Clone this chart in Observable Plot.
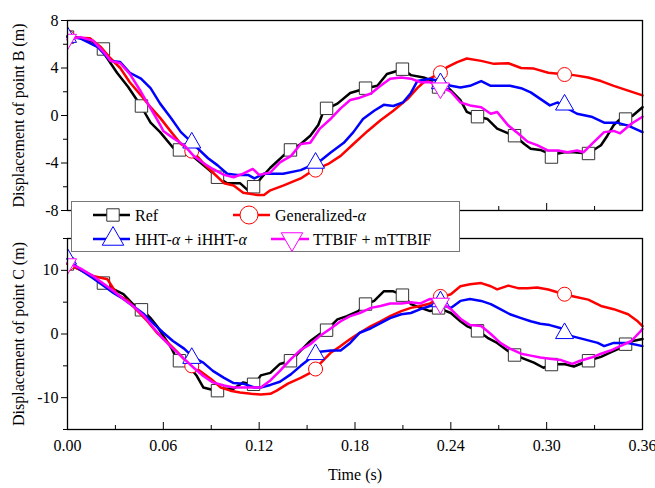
<!DOCTYPE html>
<html><head><meta charset="utf-8">
<script src="https://cdn.jsdelivr.net/npm/d3@7"></script>
<script src="https://cdn.jsdelivr.net/npm/@observablehq/plot@0.6"></script>
<style>
html,body{margin:0;padding:0;background:#fff;}
#wrap{position:relative;width:655px;height:488px;font-family:"Liberation Serif","Times New Roman",serif;}
#wrap svg{position:absolute;left:0;overflow:visible;max-width:none;}
</style></head><body><div id="wrap"></div><script>
// ---- tick values ----
const xMajor = [0, 0.06, 0.12, 0.18, 0.24, 0.30, 0.36];
const xMinor = [0.03, 0.09, 0.15, 0.21, 0.27, 0.33];
const yMajorB = [-8, -4, 0, 4, 8];
const yMinorB = [-6, -2, 2, 6];
const yMajorC = [-10, 0, 10];
const yMinorC = [-15, -5, 5, 15];
const seriesNames = ["Ref", "Generalized-α", "HHT-α + iHHT-α", "TTBIF + mTTBIF"];
const colors = ["#000000", "#ff0000", "#0000ff", "#ff00ff"];

// ---- point B: [time (s), displacement (m)] ----
const refB = [[0,6.7],[0.008,6.5],[0.016,6.2],[0.021,5.6],[0.031,3.6],[0.038,2.4],[0.046,0.8],[0.052,-0.6],[0.058,-1.4],[0.066,-2.7],[0.079,-3.5],[0.088,-4.5],[0.094,-5.2],[0.100,-5.7],[0.108,-5.7],[0.113,-6.3],[0.117,-6.0],[0.121,-5.3],[0.127,-4.4],[0.135,-3.4],[0.140,-2.9],[0.146,-2.4],[0.152,-1.7],[0.157,-0.8],[0.160,0.25],[0.163,0.6],[0.169,1.0],[0.177,1.9],[0.187,2.3],[0.194,2.5],[0.200,3.5],[0.210,3.9],[0.215,3.4],[0.223,3.2],[0.229,2.9],[0.238,2.4],[0.246,1.3],[0.250,0.3],[0.257,-0.1],[0.263,-0.3],[0.269,-1.1],[0.276,-1.5],[0.280,-1.7],[0.286,-2.4],[0.290,-2.8],[0.296,-2.9],[0.303,-3.3],[0.311,-3.1],[0.317,-3.1],[0.326,-3.2],[0.334,-2.5],[0.338,-1.7],[0.342,-0.8],[0.346,-0.3],[0.349,-0.3],[0.354,0],[0.360,0.7]];
const genB = [[0,6.6],[0.014,6.5],[0.021,5.75],[0.027,4.8],[0.033,4.0],[0.039,2.8],[0.046,1.7],[0.052,0.7],[0.058,-0.2],[0.065,-1.4],[0.071,-2.4],[0.079,-3.1],[0.085,-4.0],[0.091,-4.8],[0.098,-5.7],[0.104,-5.9],[0.110,-6.5],[0.119,-6.7],[0.123,-6.7],[0.127,-6.3],[0.135,-5.9],[0.146,-5.3],[0.154,-4.6],[0.163,-4.1],[0.171,-3.4],[0.179,-2.4],[0.188,-1.3],[0.196,-0.4],[0.204,0.4],[0.213,1.4],[0.219,2.3],[0.223,2.8],[0.232,3.5],[0.238,4.1],[0.244,4.5],[0.250,4.8],[0.259,4.6],[0.267,4.35],[0.276,4.4],[0.284,4.0],[0.292,3.95],[0.301,3.6],[0.309,3.5],[0.317,3.4],[0.326,3.2],[0.334,2.9],[0.342,2.5],[0.351,2.1],[0.360,1.7]];
const hhtB = [[0,6.6],[0.008,6.5],[0.019,5.75],[0.027,4.6],[0.033,4.5],[0.039,3.6],[0.046,3.1],[0.052,2.3],[0.058,1.0],[0.065,-0.25],[0.071,-1.4],[0.075,-1.9],[0.081,-2.7],[0.088,-3.6],[0.094,-4.2],[0.100,-4.9],[0.106,-5.0],[0.113,-5.0],[0.117,-5.3],[0.123,-4.9],[0.135,-4.9],[0.146,-4.6],[0.157,-3.95],[0.165,-3.1],[0.173,-2.3],[0.179,-1.4],[0.185,-0.3],[0.192,0.4],[0.198,0.9],[0.204,0.8],[0.210,1.1],[0.215,1.9],[0.219,2.9],[0.227,3.1],[0.235,2.8],[0.240,2.5],[0.246,2.35],[0.252,2.5],[0.259,2.9],[0.265,2.5],[0.271,2.5],[0.277,2.5],[0.284,2.3],[0.290,1.95],[0.296,1.4],[0.302,0.85],[0.307,1.1],[0.313,0.6],[0.319,0.15],[0.328,-0.1],[0.336,-0.6],[0.344,-0.6],[0.351,-0.85],[0.360,-1.4]];
const ttbB = [[0,6.4],[0.008,6.6],[0.016,6.3],[0.023,5.3],[0.027,4.6],[0.033,4.4],[0.039,3.5],[0.046,2.0],[0.052,0.6],[0.056,-0.3],[0.060,-1.3],[0.066,-1.9],[0.073,-2.5],[0.079,-3.4],[0.085,-4.0],[0.091,-4.5],[0.098,-5.0],[0.104,-5.2],[0.110,-4.9],[0.116,-4.5],[0.120,-5.0],[0.127,-4.8],[0.133,-3.95],[0.140,-3.4],[0.146,-2.4],[0.152,-2.3],[0.158,-1.1],[0.165,-0.25],[0.171,0.6],[0.177,1.3],[0.183,1.5],[0.190,1.85],[0.196,2.5],[0.202,3.1],[0.209,3.2],[0.215,3.1],[0.221,2.8],[0.227,2.8],[0.234,2.4],[0.240,2.0],[0.246,1.1],[0.252,0.85],[0.259,0.7],[0.265,0.15],[0.269,0.3],[0.276,-0.85],[0.282,-1.5],[0.288,-2.2],[0.294,-2.5],[0.301,-2.95],[0.307,-2.95],[0.313,-3.1],[0.319,-2.95],[0.323,-3.1],[0.329,-2.3],[0.336,-1.4],[0.342,-1.3],[0.346,-1.5],[0.353,-0.7],[0.360,-0.1]];

// ---- point C ----
const refC = [[0,11],[0.008,10.1],[0.016,9.1],[0.023,8.0],[0.029,7.0],[0.035,6.25],[0.041,4.7],[0.047,3.8],[0.052,2.5],[0.056,1.25],[0.060,-0.3],[0.065,-2.2],[0.069,-4.2],[0.075,-4.7],[0.081,-6.6],[0.085,-8.4],[0.093,-8.9],[0.098,-8.6],[0.104,-8.6],[0.110,-7.6],[0.117,-8.0],[0.121,-6.5],[0.127,-6.1],[0.133,-4.7],[0.140,-4.2],[0.146,-2.6],[0.152,-1.1],[0.158,0],[0.163,0.8],[0.169,2.3],[0.175,2.8],[0.182,3.6],[0.187,4.7],[0.192,5.2],[0.198,6.7],[0.204,6.7],[0.210,6.1],[0.215,4.7],[0.221,4.1],[0.227,3.6],[0.234,3.9],[0.240,3.3],[0.246,2.0],[0.250,1.25],[0.257,0.5],[0.263,-0.6],[0.269,-1.4],[0.276,-2.7],[0.280,-3.3],[0.286,-3.9],[0.292,-4.5],[0.298,-5.3],[0.303,-4.8],[0.311,-4.7],[0.317,-5.1],[0.326,-4.2],[0.334,-3.6],[0.340,-2.9],[0.346,-2.2],[0.350,-1.6],[0.354,-1.1],[0.360,-0.8]];
const genC = [[0,11],[0.016,9.1],[0.025,8.6],[0.031,6.25],[0.038,5.2],[0.044,3.6],[0.050,2.0],[0.056,0.2],[0.063,-1.4],[0.069,-2.9],[0.075,-4.5],[0.083,-5.8],[0.090,-7.1],[0.096,-8.4],[0.102,-8.9],[0.108,-9.2],[0.115,-9.4],[0.121,-9.5],[0.127,-9.4],[0.131,-8.9],[0.138,-7.8],[0.146,-6.9],[0.152,-6.1],[0.158,-4.7],[0.165,-2.9],[0.171,-1.9],[0.177,-0.8],[0.183,0.2],[0.190,1.25],[0.196,2.0],[0.202,2.8],[0.209,3.6],[0.215,4.1],[0.221,4.4],[0.227,4.8],[0.232,5.6],[0.240,6.25],[0.246,7.5],[0.252,7.8],[0.259,8.0],[0.265,7.5],[0.269,7.0],[0.276,7.6],[0.282,7.2],[0.288,7.2],[0.294,7.3],[0.301,7.0],[0.311,6.25],[0.317,5.9],[0.326,5.4],[0.334,4.4],[0.342,3.9],[0.351,3.1],[0.357,2.0],[0.360,1.25]];
const hhtC = [[0,11.8],[0.008,10.1],[0.016,8.75],[0.023,7.5],[0.029,6.4],[0.035,5.5],[0.041,4.4],[0.048,3.1],[0.054,1.6],[0.060,0.2],[0.066,-1.1],[0.073,-2.3],[0.079,-3.7],[0.085,-4.5],[0.091,-5.8],[0.098,-6.9],[0.104,-7.7],[0.110,-7.8],[0.117,-8.4],[0.121,-8.4],[0.127,-8.0],[0.133,-7.5],[0.140,-6.3],[0.146,-5.0],[0.152,-3.8],[0.158,-2.8],[0.165,-2.6],[0.171,-2.6],[0.177,-1.4],[0.183,0.2],[0.190,0.9],[0.196,1.7],[0.202,2.5],[0.209,3.1],[0.215,3.3],[0.221,3.9],[0.227,4.4],[0.232,4.8],[0.240,4.1],[0.246,5.2],[0.252,5.5],[0.259,5.2],[0.265,4.7],[0.271,3.9],[0.277,3.1],[0.284,2.5],[0.290,2.0],[0.296,1.6],[0.302,1.4],[0.309,0.9],[0.315,-0.3],[0.323,-0.8],[0.332,-1.4],[0.336,-1.9],[0.342,-1.4],[0.351,-1.4],[0.360,-1.9]];
const ttbC = [[0,11.2],[0.008,10.3],[0.016,9.1],[0.023,7.8],[0.029,6.7],[0.035,5.5],[0.041,4.4],[0.048,2.8],[0.054,0.9],[0.060,-0.8],[0.066,-2.3],[0.073,-3.9],[0.079,-5.3],[0.085,-6.6],[0.091,-7.6],[0.098,-8.1],[0.104,-8.4],[0.110,-8.4],[0.117,-8.4],[0.121,-8.4],[0.127,-7.3],[0.133,-5.8],[0.140,-3.9],[0.146,-2.5],[0.152,-1.6],[0.158,-0.3],[0.165,0.9],[0.171,2.0],[0.177,2.8],[0.183,3.3],[0.190,4.1],[0.196,4.4],[0.202,4.8],[0.209,4.8],[0.215,5.0],[0.221,4.8],[0.227,5.5],[0.234,5.0],[0.240,3.9],[0.246,2.4],[0.252,1.4],[0.259,1.25],[0.265,0.0],[0.271,-1.4],[0.277,-2.3],[0.284,-3.1],[0.290,-3.4],[0.296,-3.7],[0.302,-3.9],[0.309,-4.1],[0.316,-4.7],[0.321,-4.2],[0.328,-3.7],[0.334,-3.1],[0.340,-2.6],[0.346,-1.9],[0.353,-1.1],[0.359,0.5],[0.360,0.8]];

// ---- symbol positions ----
const refBMk = [[0,6.6],[0.0225,5.6],[0.0463,0.8],[0.0701,-2.9],[0.0939,-5.2],[0.1165,-6.0],[0.1396,-2.9],[0.1622,0.6],[0.1866,2.3],[0.2097,3.9],[0.2323,2.4],[0.2567,-0.1],[0.2799,-1.7],[0.303,-3.5],[0.3262,-3.2],[0.3494,-0.3]];
const genBMk = [[0,6.6],[0.0778,-3.0],[0.1553,-4.6],[0.2335,3.6],[0.3112,3.45]];
const hhtBMk = [[0,6.6],[0.0778,-2.3],[0.1553,-4.0],[0.2335,2.7],[0.3112,0.9]];
const ttbBMk = [[0,6.4],[0.2335,2.3]];
const refCMk = [[0,11],[0.0225,8.0],[0.0463,3.8],[0.0701,-4.2],[0.0939,-8.9],[0.1165,-7.9],[0.1396,-4.2],[0.1622,0.6],[0.1866,4.7],[0.2097,6.1],[0.2323,4.1],[0.2567,0.5],[0.2799,-3.3],[0.303,-4.8],[0.3262,-4.2],[0.3494,-1.6]];
const genCMk = [[0,11],[0.0778,-5.0],[0.1553,-5.5],[0.2335,5.9],[0.3112,6.25]];
const hhtCMk = [[0,11.8],[0.0778,-3.8],[0.1553,-3.2],[0.2335,5.1],[0.3112,0.1]];
const ttbCMk = [[0,11],[0.2335,4.8]];

const downTriangle = {draw(ctx, size) {
  const y = Math.sqrt(size / (3 * Math.sqrt(3)));
  ctx.moveTo(0, 2 * y); ctx.lineTo(Math.sqrt(3) * y, -y); ctx.lineTo(-Math.sqrt(3) * y, -y); ctx.closePath();
}};
const symbols = ["square", "circle", "triangle", downTriangle];
const radii = [7, 7, 6.7, 6.7];
const markStroke = ["#333333", "#ff0000", "#0000ff", "#ff00ff"];

const FONT = {fontFamily: "'Liberation Serif','Times New Roman',serif", fontSize: "16px", color: "black", background: "transparent", overflow: "visible"};

function panel({lines, marks, yDomain, yMajor, yMinor, yLabel, height, marginTop, marginBottom, bottomAxis}) {
  const frameH = height - marginTop - marginBottom;
  const m = [
    Plot.axisY({ticks: yMajor, tickSize: 6, tickPadding: 3, tickFormat: d => String(d), label: yLabel, labelAnchor: "center", labelOffset: 55, labelArrow: "none"}),
    Plot.axisY({ticks: yMinor, tickSize: 4, tickFormat: () => "", label: null}),
    Plot.tickX(xMajor, {x: d => d, insetTop: frameH - 7, stroke: "black", strokeWidth: 1}),
    Plot.tickX(xMinor, {x: d => d, insetTop: frameH - 4, stroke: "black", strokeWidth: 1})
  ];
  if (bottomAxis) m.push(Plot.axisX({ticks: xMajor, tickSize: 0, tickPadding: 10, tickFormat: d3.format(".2f"), label: "Time (s)", labelAnchor: "center", labelOffset: 50, labelArrow: "none"}));
  lines.forEach((data, i) => {
    m.push(Plot.line(data, {x: d => d[0], y: d => d[1], stroke: colors[i], strokeWidth: 2.5, strokeLinejoin: "round"}));
    m.push(Plot.dot(marks[i], {x: d => d[0], y: d => d[1], symbol: symbols[i], r: radii[i], fill: "white", stroke: markStroke[i], strokeWidth: 1, clip: true}));
  });
  m.push(Plot.frame({stroke: "black", strokeWidth: 1.3}));
  return Plot.plot({
    width: 655, height, marginLeft: 67, marginRight: 13, marginTop, marginBottom,
    x: {domain: [0, 0.36], axis: bottomAxis ? undefined : null},
    y: {domain: yDomain},
    style: FONT,
    marks: m
  });
}

const wrap = document.getElementById("wrap");
const topPlot = panel({lines: [refB, genB, hhtB, ttbB], marks: [refBMk, genBMk, hhtBMk, ttbBMk], yDomain: [-8, 8], yMajor: yMajorB, yMinor: yMinorB, yLabel: "Displacement of point B (m)", height: 215, marginTop: 20, marginBottom: 5, bottomAxis: false});
topPlot.style.top = "0px";
wrap.appendChild(topPlot);
const botPlot = panel({lines: [refC, genC, hhtC, ttbC], marks: [refCMk, genCMk, hhtCMk, ttbCMk], yDomain: [-15, 15], yMajor: yMajorC, yMinor: yMinorC, yLabel: "Displacement of point C (m)", height: 273, marginTop: 23, marginBottom: 59, bottomAxis: true});
botPlot.style.top = "215px";
wrap.appendChild(botPlot);

// ---- legend ----
const leg = d3.select(wrap).append("svg").attr("width", 390).attr("height", 52)
  .style("left", "71px").style("top", "201px");
leg.append("rect").attr("x", 0.5).attr("y", 0.5).attr("width", 388).attr("height", 50)
  .attr("fill", "white").attr("stroke", "#777").attr("stroke-width", 1);
const legItems = [
  {x1: 22, x2: 59, mx: 42, tx: 64, y: 14},
  {x1: 162, x2: 199, mx: 178, tx: 204, y: 14},
  {x1: 22, x2: 59, mx: 42, tx: 64, y: 38},
  {x1: 200, x2: 238, mx: 221, tx: 242, y: 38}
];
const legR = [7, 9, 8, 8];
const d3Sym = [d3.symbolSquare, d3.symbolCircle, d3.symbolTriangle, downTriangle];
legItems.forEach((it, i) => {
  const g = leg.append("g");
  g.append("line").attr("x1", it.x1).attr("x2", it.x2).attr("y1", it.y).attr("y2", it.y)
    .attr("stroke", colors[i]).attr("stroke-width", 2.5);
  g.append("path").attr("transform", `translate(${it.mx},${it.y})`)
    .attr("d", d3.symbol(d3Sym[i], Math.PI * legR[i] * legR[i])())
    .attr("fill", "white").attr("stroke", markStroke[i]).attr("stroke-width", 1);
  const t = g.append("text").attr("x", it.tx).attr("y", it.y).attr("dy", "0.35em")
    .attr("font-family", "'Liberation Serif','Times New Roman',serif").attr("font-size", 16).attr("fill", "black");
  const parts = seriesNames[i].split("α");
  parts.forEach((p, k) => {
    if (p) t.append("tspan").text(p);
    if (k < parts.length - 1) t.append("tspan").attr("font-style", "italic").text("α");
  });
});
</script></body></html>
